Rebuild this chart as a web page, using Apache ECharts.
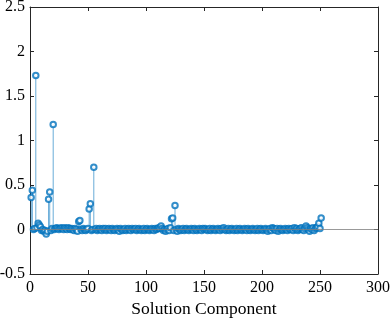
<!DOCTYPE html>
<html><head><meta charset="utf-8">
<script src="https://cdn.jsdelivr.net/npm/echarts@6/dist/echarts.min.js"></script>
<style>html,body{margin:0;padding:0;background:#fff}#c{width:390px;height:318px}</style>
</head><body><div id="c"></div>
<script>
// Solution component values, index 1..251
const values = [
 0.36, 0.44, 0.00, 0.01, 1.73, 0.02, 0.07, 0.05, 0.03,-0.01,
 0.00,-0.02,-0.01,-0.05,-0.02, 0.34, 0.42,-0.01, 0.01, 1.18,
 0.00, 0.01, 0.02, 0.01, 0.00, 0.01, 0.02, 0.01, 0.00, 0.02,
 0.01, 0.00, 0.02, 0.01, 0.00, 0.01, 0.00,-0.01, 0.01, 0.00,
-0.02, 0.09, 0.10, 0.00,-0.01, 0.01, 0.00,-0.01, 0.00, 0.01,
 0.23, 0.29,-0.01, 0.00, 0.70, 0.00, 0.01,-0.01, 0.00, 0.01,
 0.00,-0.01, 0.01, 0.00, 0.01,-0.01, 0.00, 0.01, 0.00,-0.01,
 0.01, 0.00,-0.01, 0.00, 0.01, 0.00,-0.02, 0.01, 0.00,-0.01,
 0.00, 0.01,-0.01, 0.00, 0.01, 0.00,-0.01, 0.01, 0.00, 0.00,
 0.01,-0.01, 0.00, 0.01, 0.00,-0.01, 0.00, 0.01,-0.01, 0.00,
 0.01, 0.00,-0.01, 0.00, 0.01, 0.00,-0.01, 0.01, 0.00, 0.01,
 0.02, 0.01, 0.04, 0.01,-0.01, 0.00,-0.02, 0.00, 0.01,-0.01,
 0.02, 0.12, 0.13,-0.01, 0.27, 0.00,-0.02, 0.01, 0.00,-0.01,
 0.00, 0.01,-0.01, 0.00, 0.01, 0.00,-0.01, 0.00, 0.01, 0.00,
-0.01, 0.01, 0.00,-0.01, 0.00, 0.01, 0.00,-0.01, 0.01, 0.00,
 0.01, 0.00,-0.01, 0.00, 0.01,-0.01, 0.00, 0.01, 0.00,-0.01,
 0.00, 0.01, 0.00,-0.01, 0.01, 0.00, 0.02, 0.00,-0.01, 0.00,
 0.01,-0.01, 0.00, 0.01, 0.00,-0.01, 0.00, 0.01,-0.01, 0.00,
 0.01, 0.00,-0.01, 0.00, 0.01, 0.00,-0.01, 0.01, 0.00,-0.01,
 0.00, 0.01, 0.00,-0.01, 0.00, 0.01,-0.01, 0.00, 0.01, 0.00,
-0.01, 0.00, 0.01, 0.00,-0.02, 0.00, 0.01,-0.01, 0.02, 0.01,
 0.00,-0.01, 0.01,-0.02, 0.00, 0.01, 0.00,-0.01, 0.00, 0.01,
 0.00,-0.01, 0.01, 0.00, 0.00, 0.01,-0.01, 0.02, 0.00, 0.01,
-0.01, 0.00, 0.01, 0.02, 0.00,-0.01, 0.01, 0.04, 0.02, 0.00,
-0.02, 0.01, 0.00, 0.02,-0.01, 0.01, 0.02, 0.03, 0.07, 0.01,
 0.13
];
const xLabel = 'Solution Component';
const xTicks = [0, 50, 100, 150, 200, 250, 300];
const yTicks = [-0.5, 0, 0.5, 1, 1.5, 2, 2.5];

const points = values.map((v, i) => [i + 1, v]);
const blue = '#0072BD';
const axisColor = '#262626';
const font = 'Liberation Serif';

const chart = echarts.init(document.getElementById('c'));
const baseAxis = {
  axisLine: {show: true, onZero: false, lineStyle: {color: axisColor, width: 1}},
  axisTick: {show: true, inside: true, length: 4, lineStyle: {color: axisColor}},
  splitLine: {show: false}
};
chart.setOption({
  animation: false,
  grid: {left: 30, right: 12, top: 7, bottom: 44, containLabel: false, outerBoundsMode: 'none'},
  xAxis: [
    Object.assign({}, baseAxis, {type: 'value', min: xTicks[0], max: xTicks[xTicks.length-1], interval: 50,
      name: xLabel, nameLocation: 'middle', nameGap: 26,
      nameTextStyle: {fontFamily: font, fontSize: 17.5, color: '#000', verticalAlign: 'top'},
      axisLabel: {fontFamily: font, fontSize: 16, color: '#000', margin: 6}}),
    Object.assign({}, baseAxis, {type: 'value', position: 'top', min: xTicks[0], max: xTicks[xTicks.length-1], interval: 50,
      axisLabel: {show: false}})
  ],
  yAxis: [
    Object.assign({}, baseAxis, {type: 'value', min: yTicks[0], max: yTicks[yTicks.length-1], interval: 0.5,
      axisLabel: {fontFamily: font, fontSize: 16, color: '#000', margin: 5}}),
    Object.assign({}, baseAxis, {type: 'value', position: 'right', min: yTicks[0], max: yTicks[yTicks.length-1], interval: 0.5,
      axisLabel: {show: false}})
  ],
  series: [
    {
      type: 'custom',
      data: points,
      silent: true,
      renderItem: function (params, api) {
        const p0 = api.coord([api.value(0), 0]);
        const p1 = api.coord([api.value(0), api.value(1)]);
        return {type: 'line', shape: {x1: p0[0], y1: p0[1], x2: p1[0], y2: p1[1]},
          style: {stroke: blue, lineWidth: 0.7, opacity: 0.85}};
      },
      markLine: {
        silent: true, symbol: 'none', label: {show: false},
        lineStyle: {color: '#7f7f7f', width: 0.8, type: 'solid'},
        data: [{yAxis: 0}]
      },
      z: 2
    },
    {
      type: 'scatter',
      data: points,
      symbol: 'emptyCircle',
      symbolSize: 5.5,
      itemStyle: {color: blue, borderColor: blue, borderWidth: 1},
      silent: true,
      z: 3
    }
  ]
});
</script>
</body></html>
